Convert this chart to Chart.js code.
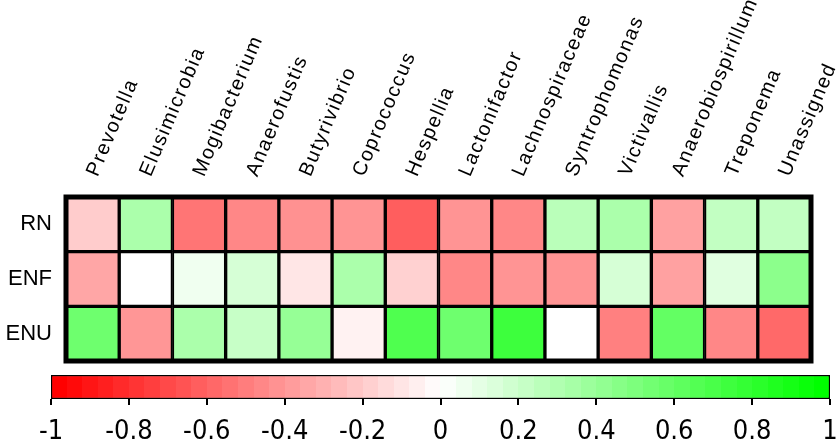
<!DOCTYPE html>
<html>
<head>
<meta charset="utf-8">
<script src="https://cdn.jsdelivr.net/npm/chart.js@4.4.1/dist/chart.umd.min.js"></script>
<style>
  html, body { margin: 0; padding: 0; background: #fff; }
  #wrap { position: relative; width: 837px; height: 447px; overflow: hidden; }
  #heat { position: absolute; left: 0; top: 0; }
  #scale { position: absolute; left: 0; top: 360px; }
</style>
</head>
<body>
<div id="wrap">
  <canvas id="heat" width="837" height="447"></canvas>
  <canvas id="scale" width="837" height="87"></canvas>
</div>
<script>
// Genera (columns) and groups (rows) of the correlation heatmap
const taxa = ['Prevotella', 'Elusimicrobia', 'Mogibacterium', 'Anaerofustis', 'Butyrivibrio',
  'Coprococcus', 'Hespellia', 'Lactonifactor', 'Lachnospiraceae', 'Syntrophomonas',
  'Victivallis', 'Anaerobiospirillum', 'Treponema', 'Unassigned'];
const groups = ['RN', 'ENF', 'ENU'];

// Correlation coefficient per genus, one array per group
const rnValues  = [-0.20, 0.33, -0.54, -0.47, -0.43, -0.42, -0.63, -0.42, -0.47, 0.27, 0.33, -0.37, 0.24, 0.24];
const enfValues = [-0.35, 0.00, 0.06, 0.16, -0.10, 0.33, -0.18, -0.47, -0.42, -0.42, 0.16, -0.37, 0.12, 0.45];
const enuValues = [0.57, -0.41, 0.33, 0.22, 0.41, -0.05, 0.69, 0.57, 0.76, 0.00, -0.50, 0.61, -0.47, -0.59];

// Colour bar tick labels
const colorbarTicks = [-1, -0.8, -0.6, -0.4, -0.2, 0, 0.2, 0.4, 0.6, 0.8, 1];

// red (-1) -> white (0) -> green (+1)
function cellColor(v) {
  const t = Math.round(255 * (1 - Math.min(1, Math.abs(v))));
  return v < 0 ? `rgb(255,${t},${t})` : `rgb(${t},255,${t})`;
}

const rows = [rnValues, enfValues, enuValues];

// Wider tracking for the rotated genus names; reset before the cells and row names
const labelSpacing = {
  id: 'labelSpacing',
  beforeDraw(chart) { chart.ctx.letterSpacing = '1.5px'; },
  beforeDatasetsDraw(chart) { chart.ctx.letterSpacing = '0px'; }
};

// Heavy outer frame around the grid
const gridFrame = {
  id: 'gridFrame',
  afterDatasetsDraw(chart) {
    const { ctx, chartArea: a } = chart;
    ctx.save();
    ctx.lineWidth = 5;
    ctx.strokeStyle = '#000';
    ctx.strokeRect(a.left, a.top, a.right - a.left, a.bottom - a.top);
    ctx.restore();
  }
};

new Chart(document.getElementById('heat'), {
  type: 'bar',
  data: {
    labels: taxa,
    datasets: rows.map((vals, r) => ({
      label: groups[r],
      data: vals.map((v, i) => ({ x: taxa[i], y: [r, r + 1], v })),
      backgroundColor: ctx => (ctx.raw ? cellColor(ctx.raw.v) : '#fff'),
      borderColor: '#000',
      borderWidth: 2,
      borderSkipped: false,
      barPercentage: 1,
      categoryPercentage: 1,
      grouped: false
    }))
  },
  options: {
    responsive: false,
    animation: false,
    devicePixelRatio: 1,
    layout: { padding: { left: 0, right: 26, top: 0, bottom: 86 } },
    plugins: { legend: { display: false }, tooltip: { enabled: false } },
    scales: {
      x: {
        type: 'category',
        position: 'top',
        offset: true,
        grid: { display: false, drawTicks: false },
        border: { display: false },
        ticks: {
          autoSkip: false, minRotation: 67, maxRotation: 67, padding: 17, labelOffset: 22,
          color: '#000',
          font: { family: "'Liberation Sans', Arial, sans-serif", size: 20 }
        },
        afterFit(s) { s.height = 197; s.paddingLeft = 0; s.paddingRight = 0; }
      },
      y: { type: 'linear', min: 0, max: 3, reverse: true, display: false },
      rows: {
        type: 'category',
        labels: groups,
        position: 'left',
        offset: true,
        grid: { display: false, drawTicks: false },
        border: { display: false },
        ticks: {
          z: 1, padding: 14, color: '#000',
          font: { family: "'Liberation Sans', Arial, sans-serif", size: 22 }
        },
        afterFit(s) { s.width = 66; s.paddingTop = 0; s.paddingBottom = 0; }
      }
    }
  },
  plugins: [labelSpacing, gridFrame]
});

// Colour bar: one floating bar from -1 to 1 filled with a stepped red-white-green ramp
const steps = 50;
function rampFill(ctx) {
  const area = ctx.chart.chartArea;
  if (!area) return '#fff';
  const g = ctx.chart.ctx.createLinearGradient(area.left, 0, area.right, 0);
  for (let i = 0; i < steps; i++) {
    const c = cellColor(-1 + 2 * i / (steps - 1));
    g.addColorStop(i / steps, c);
    g.addColorStop((i + 1) / steps, c);
  }
  return g;
}

new Chart(document.getElementById('scale'), {
  type: 'bar',
  data: {
    labels: ['r'],
    datasets: [{
      data: [[colorbarTicks[0], colorbarTicks[colorbarTicks.length - 1]]],
      backgroundColor: rampFill,
      borderColor: '#000',
      borderWidth: 1.5,
      borderSkipped: false,
      barPercentage: 1,
      categoryPercentage: 1
    }]
  },
  options: {
    indexAxis: 'y',
    responsive: false,
    animation: false,
    devicePixelRatio: 1,
    layout: { padding: { left: 51, right: 7, top: 15, bottom: 0 } },
    plugins: { legend: { display: false }, tooltip: { enabled: false } },
    scales: {
      x: {
        type: 'linear',
        min: -1, max: 1,
        position: 'bottom',
        grid: { drawOnChartArea: false, drawTicks: true, tickLength: 6, color: '#000', lineWidth: 2 },
        border: { display: false },
        ticks: {
          padding: 11, color: '#000',
          font: { family: "'DejaVu Sans Condensed', 'Liberation Sans', Arial, sans-serif", size: 27 },
          callback: v => String(v)
        },
        afterBuildTicks(s) { s.ticks = colorbarTicks.map(v => ({ value: v })); },
        afterFit(s) { s.height = 48; s.paddingLeft = 0; s.paddingRight = 0; }
      },
      y: { display: false }
    }
  }
});
</script>
</body>
</html>
